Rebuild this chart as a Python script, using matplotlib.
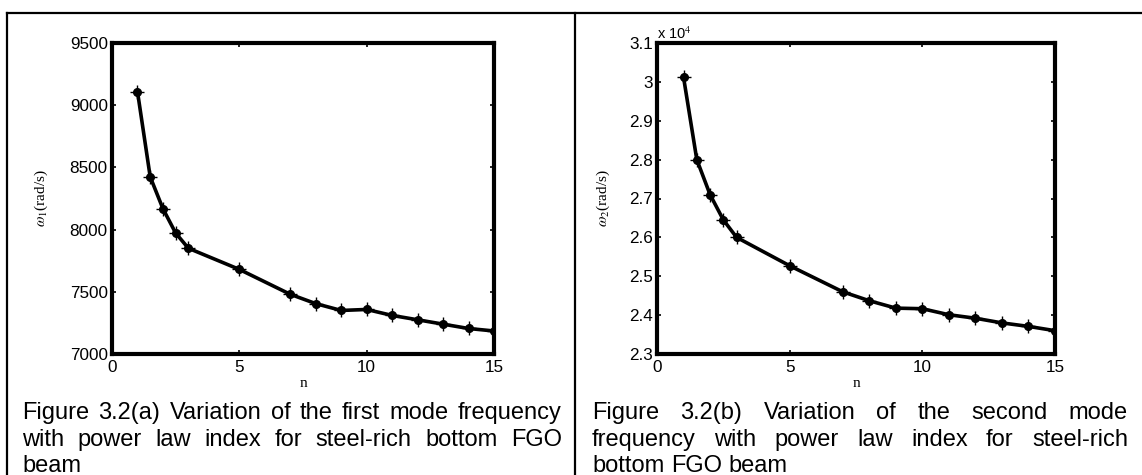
import matplotlib
matplotlib.use("Agg")
import matplotlib.pyplot as plt
from matplotlib.ticker import FuncFormatter, MultipleLocator
from matplotlib.lines import Line2D

# ---------------- data ----------------
n_index = [1, 1.5, 2, 2.5, 3, 5, 7, 8, 9, 10, 11, 12, 13, 14, 15]
omega1 = [9110, 8424, 8168, 7972, 7850, 7680, 7480, 7405, 7350, 7358,
          7310, 7275, 7240, 7205, 7185]
omega2 = [30120, 28000, 27100, 26450, 26000, 25270, 24600, 24370, 24180,
          24165, 24010, 23920, 23800, 23710, 23600]

lines_a = [["Figure", "3.2(a)", "Variation", "of", "the", "first", "mode", "frequency"],
           ["with", "power", "law", "index", "for", "steel-rich", "bottom", "FGO"],
           ["beam"]]
lines_b = [["Figure", "3.2(b)", "Variation", "of", "the", "second", "mode"],
           ["frequency", "with", "power", "law", "index", "for", "steel-rich"],
           ["bottom", "FGO", "beam"]]

W, H = 1142, 475
plt.rcParams['font.family'] = ['Liberation Sans', 'DejaVu Sans']
plt.rcParams['mathtext.fontset'] = 'stix'
fig = plt.figure(figsize=(W / 100, H / 100), dpi=100)


def fx(px):
    return px / W


def fy(py):
    return 1 - py / H


# table borders
lw_b = 1.6
fig.add_artist(Line2D([fx(7), fx(W)], [fy(13), fy(13)], color='black', lw=lw_b))
fig.add_artist(Line2D([fx(7), fx(7)], [fy(13), fy(H)], color='black', lw=lw_b))
fig.add_artist(Line2D([fx(575), fx(575)], [fy(13), fy(H)], color='black', lw=lw_b))


def make_axes(left, right, top, bottom, x, y, ylim, ystep, fmt, ylabel, ylab_x):
    ax = fig.add_axes([fx(left), fy(bottom), fx(right - left), (bottom - top) / H])
    ax.plot(x, y, color='black', lw=2.6, zorder=3)
    ax.plot(x, y, 'o', color='black', ms=5.5, zorder=4)
    ax.plot(x, y, '+', color='black', ms=10, mew=1.0, zorder=4)
    ax.set_xlim(0, 15)
    ax.set_ylim(*ylim)
    ax.xaxis.set_major_locator(MultipleLocator(5))
    ax.yaxis.set_major_locator(MultipleLocator(ystep))
    ax.yaxis.set_major_formatter(FuncFormatter(fmt))
    ax.tick_params(direction='in', length=3, width=1.2, top=True, right=True,
                   labelsize=12.3, pad=3, colors='black')
    ax.tick_params(axis='x', pad=4)
    for s in ax.spines.values():
        s.set_linewidth(3.0)
    ax.set_xlabel('n', family='Liberation Serif', fontsize=11, labelpad=2)
    ax.set_ylabel(ylabel, family='Liberation Serif', fontsize=11)
    ax.yaxis.set_label_coords((ylab_x - left) / (right - left), 0.5)
    return ax


ax1 = make_axes(112, 494, 43, 354, n_index, omega1, (7000, 9500), 500,
                lambda v, p: f"{v:.0f}", r'$\omega_1$(rad/s)', 50)
ax2 = make_axes(657, 1055, 43, 354, n_index, omega2, (23000, 31000), 1000,
                lambda v, p: f"{v / 1e4:g}", r'$\omega_2$(rad/s)', 612)
fig.text(fx(657), fy(34), r'x 10$^{4}$', fontsize=10.5, va='center', ha='left')

# justified captions
renderer = fig.canvas.get_renderer()
cap_fs = 17


def justify(lines, x0, x1, ys):
    for li, (words, yy) in enumerate(zip(lines, ys)):
        texts = [fig.text(0, fy(yy), w, fontsize=cap_fs, va='center', ha='left')
                 for w in words]
        widths = [t.get_window_extent(renderer).width for t in texts]
        last = li == len(lines) - 1
        if last or len(words) == 1:
            space = cap_fs * 100 / 72 * 0.278
        else:
            space = (x1 - x0 - sum(widths)) / (len(words) - 1)
        xcur = x0
        for t, wdt in zip(texts, widths):
            t.set_x(fx(xcur))
            xcur += wdt + space


justify(lines_a, 22, 562, [413, 440, 466])
justify(lines_b, 592, 1128, [413, 440, 466])

fig.savefig('out.png', dpi=100)
